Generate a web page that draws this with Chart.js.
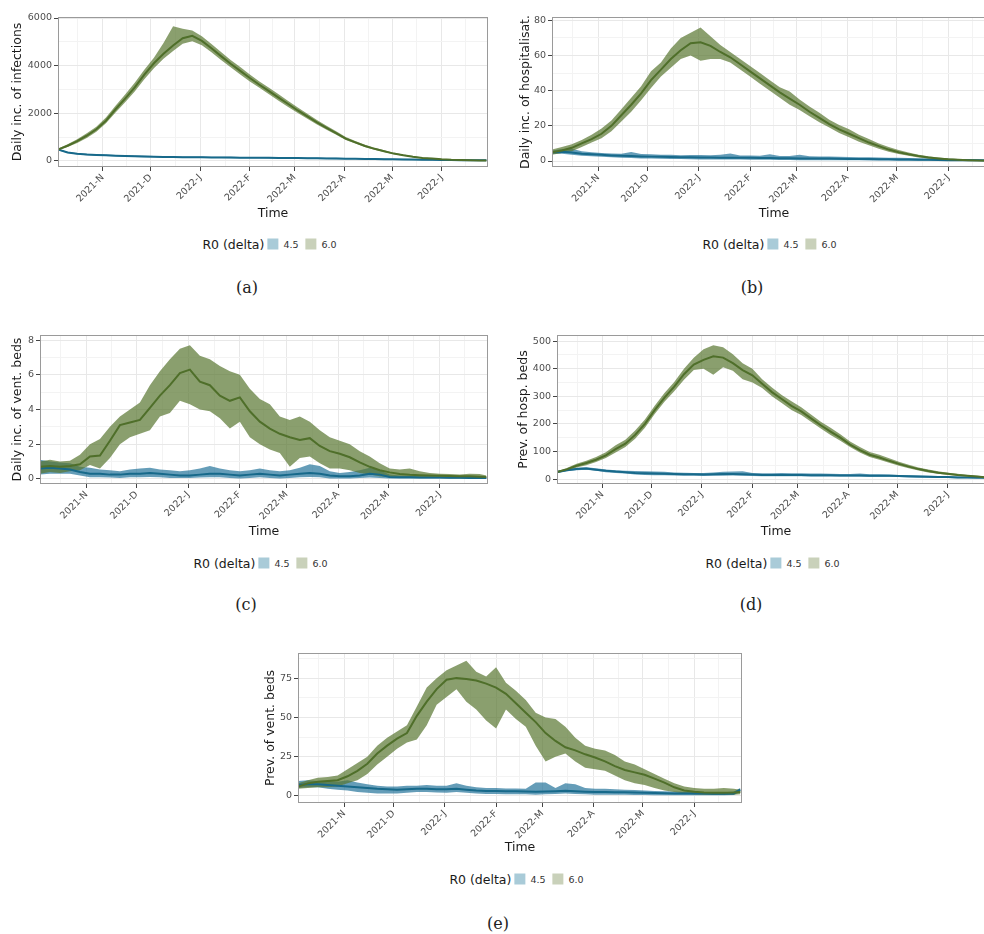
<!DOCTYPE html>
<html>
<head>
<meta charset="utf-8">
<title>Scenario projections by R0 (delta)</title>
<script src="https://cdn.jsdelivr.net/npm/chart.js@4.4.1/dist/chart.umd.min.js"></script>
<style>
    html, body { margin: 0; padding: 0; overflow: hidden; background: #fff; }
    body { position: relative; width: 984px; height: 934px; font-family: 'DejaVu Sans', sans-serif; }
    .panel { position: absolute; }
    .legend { position: absolute; display: flex; align-items: center; white-space: nowrap; transform: translate(-50%, -50%); color: #1a1a1a; }
    .legend .ttl { font-size: 12.5px; margin-right: 3px; }
    .legend .key { display: inline-block; width: 11px; height: 11px; margin-right: 5px; }
    .legend .lab { font-size: 9.5px; color: #333; margin-right: 7px; }
    .caption { position: absolute; transform: translate(-50%, -50%); font-family: 'DejaVu Serif', serif; font-size: 16px; color: #222; }
</style>
</head>
<body>
<script>
// Simulation day axis (day 0 = 1 Oct 2021)
const days = [3, 9, 15, 21, 27, 33, 39, 45, 51, 57, 63, 69, 75, 81, 87, 93, 99, 105, 111, 117,
    123, 129, 135, 141, 147, 153, 159, 165, 171, 177, 183, 189, 195, 201, 207, 213, 219, 225, 231, 237,
    243, 249, 255, 261, 267, 271];
const xTickDays = [31, 61, 92, 123, 151, 182, 212, 243];
const xTickLabels = ['2021-N', '2021-D', '2022-J', '2022-F', '2022-M', '2022-A', '2022-M', '2022-J'];
const xMinorDays = [15.5, 46, 76.5, 107.5, 137, 166.5, 197, 227.5, 258];

const legendTitle = 'R0 (delta)';
const legendLabels = ['4.5', '6.0'];

// (a) daily incidence of infections
const infTicks = [0, 2000, 4000, 6000];
const infMinor = [1000, 3000, 5000];
const inf45Mean = [480, 360, 300, 270, 250, 236, 222, 208, 196, 186, 178, 171, 165, 160, 156, 153, 150, 147, 144, 141,
    138, 135, 132, 129, 126, 122, 118, 113, 108, 103, 98, 93, 87, 81, 76, 70, 65, 60, 55, 50, 45, 40, 36, 33, 30, 28];
const inf45Lo = [455, 335, 275, 245, 225, 211, 197, 183, 171, 161, 153, 146, 140, 135, 131, 128, 125, 122, 119, 116,
    113, 110, 107, 104, 101, 97, 93, 88, 83, 78, 73, 68, 62, 56, 51, 45, 40, 35, 30, 25, 20, 16, 13, 11, 9, 8];
const inf45Hi = [505, 390, 330, 300, 282, 268, 255, 240, 228, 218, 210, 203, 196, 190, 186, 184, 180, 176, 173, 170,
    167, 164, 161, 158, 155, 151, 147, 142, 137, 132, 127, 122, 116, 110, 105, 99, 94, 88, 83, 78, 72, 66, 61, 57, 53, 50];
const inf60Mean = [480, 640, 830, 1060, 1330, 1690, 2170, 2620, 3090, 3620, 4100, 4500, 4850, 5150, 5250, 5040, 4730, 4400, 4080, 3780,
    3480, 3200, 2930, 2660, 2390, 2120, 1870, 1620, 1390, 1170, 940, 780, 630, 510, 410, 310, 240, 180, 130, 100, 70, 50, 40, 30, 25, 20];
const inf60Lo = [450, 590, 760, 970, 1230, 1580, 2030, 2470, 2920, 3430, 3890, 4290, 4620, 4920, 5020, 4860, 4560, 4240, 3930, 3630,
    3340, 3070, 2800, 2530, 2270, 2010, 1770, 1530, 1310, 1100, 880, 730, 590, 470, 375, 280, 215, 160, 112, 84, 56, 38, 28, 20, 16, 12];
const inf60Hi = [510, 700, 910, 1160, 1440, 1820, 2320, 2790, 3280, 3830, 4330, 4950, 5650, 5550, 5480, 5230, 4910, 4570, 4240, 3940,
    3630, 3340, 3070, 2800, 2520, 2240, 1980, 1720, 1480, 1250, 1010, 840, 680, 555, 450, 345, 270, 205, 150, 118, 86, 64, 52, 40, 34, 28];

// (b) daily incidence of hospitalisations
const hospTicks = [0, 20, 40, 60, 80];
const hospMinor = [10, 30, 50, 70];
const hosp45Mean = [5, 5.3, 4.8, 4.2, 3.8, 3.5, 3.2, 3, 2.8, 2.6, 2.5, 2.4, 2.3, 2.2, 2.1, 2, 2, 1.9, 1.9, 1.8,
    1.8, 1.7, 1.7, 1.6, 1.6, 1.5, 1.5, 1.4, 1.4, 1.3, 1.2, 1.2, 1.1, 1, 1, 0.9, 0.8, 0.7, 0.7, 0.6, 0.5, 0.5, 0.4, 0.4, 0.3, 0.3];
const hosp45Lo = [4, 4.2, 3.6, 3, 2.7, 2.4, 2.1, 1.9, 1.7, 1.5, 1.4, 1.3, 1.2, 1.1, 1, 0.9, 0.9, 0.8, 0.8, 0.8,
    0.7, 0.7, 0.7, 0.6, 0.6, 0.5, 0.5, 0.5, 0.5, 0.4, 0.4, 0.4, 0.3, 0.3, 0.3, 0.2, 0.2, 0.2, 0.2, 0.1, 0.1, 0.1, 0.1, 0.1, 0.05, 0.05];
const hosp45Hi = [6, 6.8, 7, 5.5, 5, 4.6, 4.3, 4.2, 5.2, 4, 3.8, 3.6, 3.5, 3.3, 3.4, 3.4, 3.3, 3.6, 4.3, 3.2,
    3.1, 3, 3.8, 2.9, 2.8, 3.6, 2.7, 2.6, 2.5, 2.4, 2.3, 2.2, 2.1, 2, 1.9, 1.8, 1.7, 1.6, 1.5, 1.4, 1.3, 1.2, 1.1, 1, 0.9, 0.8];
const hosp60Mean = [5, 6, 7.5, 10, 12.5, 15.5, 20, 26, 32, 38.5, 46, 52, 58, 63, 67, 67.5, 65.5, 62, 59, 55,
    51, 47, 43, 39, 35.5, 32, 28, 24.5, 21, 18, 15.5, 13, 10.5, 8.5, 6.5, 5, 3.8, 2.8, 2, 1.5, 1, 0.7, 0.5, 0.3, 0.2, 0.2];
const hosp60Lo = [3.5, 4.5, 5.5, 8, 10.5, 13, 17, 22.5, 28, 34.5, 41.5, 48, 53, 58, 60, 57, 58, 58, 56, 52,
    48, 44, 40, 36, 32, 29, 25.5, 22, 19, 16, 13.5, 11, 9, 7, 5.3, 4, 3, 2, 1.4, 1, 0.6, 0.4, 0.2, 0.1, 0.05, 0.05];
const hosp60Hi = [6.5, 8, 9.5, 12, 15, 18.5, 23, 29.5, 36, 42.5, 51, 56, 64, 70, 73, 76, 71, 66, 62, 58,
    54, 50, 46, 42, 39.5, 35, 31, 27.5, 23.5, 20.5, 18, 15, 12.5, 10, 8, 6.2, 4.8, 3.6, 2.7, 2, 1.5, 1.1, 0.8, 0.6, 0.4, 0.4];

// (c) daily incidence of ventilated beds
const ventTicks = [0, 2, 4, 6, 8];
const ventMinor = [1, 3, 5, 7];
const vent45Mean = [0.6, 0.65, 0.6, 0.55, 0.4, 0.3, 0.3, 0.25, 0.25, 0.3, 0.3, 0.35, 0.3, 0.25, 0.2, 0.2, 0.25, 0.3, 0.3, 0.25,
    0.2, 0.25, 0.3, 0.25, 0.2, 0.25, 0.3, 0.35, 0.3, 0.2, 0.15, 0.15, 0.2, 0.3, 0.25, 0.12, 0.1, 0.1, 0.09, 0.08, 0.08, 0.07, 0.07, 0.06, 0.06, 0.06];
const vent45Lo = [0.25, 0.3, 0.3, 0.3, 0.2, 0.1, 0.1, 0.08, 0.05, 0.1, 0.1, 0.12, 0.1, 0.05, 0.05, 0.05, 0.08, 0.1, 0.1, 0.05,
    0.02, 0.05, 0.1, 0.05, 0.02, 0.05, 0.1, 0.12, 0.1, 0.02, 0.02, 0.02, 0.05, 0.08, 0.05, 0.02, 0.02, 0.02, 0.02, 0.02, 0.02, 0.02, 0.02, 0.02, 0.02, 0.02];
const vent45Hi = [1.1, 1, 0.95, 0.9, 0.7, 0.65, 0.55, 0.5, 0.45, 0.55, 0.6, 0.65, 0.55, 0.5, 0.45, 0.5, 0.6, 0.75, 0.6, 0.5,
    0.45, 0.5, 0.6, 0.5, 0.45, 0.5, 0.65, 0.85, 0.75, 0.45, 0.35, 0.4, 0.5, 0.65, 0.5, 0.25, 0.2, 0.18, 0.16, 0.15, 0.14, 0.13, 0.12, 0.12, 0.12, 0.1];
const vent60Mean = [0.7, 0.75, 0.7, 0.75, 0.85, 1.3, 1.35, 2.2, 3.1, 3.25, 3.4, 4.1, 4.8, 5.4, 6.1, 6.3, 5.6, 5.4, 4.8, 4.5,
    4.7, 3.9, 3.3, 2.9, 2.6, 2.4, 2.25, 2.35, 1.9, 1.6, 1.45, 1.25, 0.95, 0.7, 0.5, 0.38, 0.28, 0.24, 0.22, 0.2, 0.19, 0.17, 0.16, 0.15, 0.13, 0.12];
const vent60Lo = [0.3, 0.4, 0.35, 0.45, 0.5, 0.8, 0.6, 1.2, 2, 2.4, 2.6, 2.8, 3.6, 3.8, 4.5, 4.3, 4, 3.9, 3.5, 2.9,
    3.3, 2.4, 2, 1.7, 1.5, 0.7, 1.2, 1.3, 0.9, 0.6, 0.6, 0.5, 0.35, 0.25, 0.15, 0.1, 0.08, 0.05, 0.05, 0.05, 0.05, 0.04, 0.04, 0.03, 0.03, 0.03];
const vent60Hi = [1, 1.1, 1, 1.05, 1.4, 2, 2.3, 3, 3.6, 4, 4.4, 5.4, 6.2, 6.9, 7.5, 7.7, 7.1, 6.9, 6.5, 6.2,
    6, 5.2, 4.6, 4.3, 3.6, 3.4, 3.6, 3.3, 2.8, 2.4, 2.2, 2, 1.6, 1.3, 0.9, 0.6, 0.55, 0.6, 0.45, 0.35, 0.3, 0.28, 0.25, 0.3, 0.28, 0.2];

// (d) prevalence of hospital beds
const hbedTicks = [0, 100, 200, 300, 400, 500];
const hbedMinor = [50, 150, 250, 350, 450];
const hbed45Mean = [25, 32, 36, 38, 34, 30, 27, 25, 22, 21, 20, 19, 18, 17, 17, 16, 17, 18, 18, 17,
    16, 15, 15, 15, 15, 15, 14, 14, 14, 13, 13, 13, 12, 12, 12, 11, 10, 9, 8, 7, 7, 6, 6, 5, 5, 4];
const hbed45Lo = [21, 28, 32, 34, 30, 25, 22, 20, 16, 15, 14, 14, 13, 12, 12, 11, 12, 12, 13, 12,
    11, 10, 10, 10, 10, 10, 9, 9, 9, 9, 9, 9, 8, 8, 8, 7, 6, 5, 5, 4, 4, 3, 3, 3, 2, 2];
const hbed45Hi = [29, 36, 41, 43, 39, 35, 32, 30, 29, 28, 27, 26, 24, 23, 22, 22, 24, 26, 27, 28,
    22, 21, 21, 22, 21, 21, 20, 20, 19, 18, 18, 20, 17, 17, 16, 15, 14, 13, 12, 11, 10, 9, 8, 8, 7, 6];
const hbed60Mean = [25, 35, 48, 58, 70, 86, 108, 128, 160, 200, 250, 295, 335, 380, 415, 432, 445, 440, 420, 395,
    376, 345, 315, 290, 265, 245, 220, 195, 172, 150, 125, 105, 88, 78, 66, 55, 45, 36, 29, 23, 19, 15, 12, 9, 6, 5];
const hbed60Lo = [22, 30, 42, 50, 62, 76, 96, 116, 146, 186, 236, 280, 318, 360, 395, 400, 378, 405, 392, 362,
    350, 330, 300, 276, 250, 232, 208, 183, 160, 139, 116, 96, 80, 70, 59, 48, 39, 31, 24, 19, 15, 12, 9, 6, 4, 3];
const hbed60Hi = [28, 40, 55, 66, 80, 97, 122, 142, 176, 216, 266, 312, 352, 400, 440, 470, 485, 478, 452, 420,
    400, 362, 332, 305, 282, 260, 234, 208, 186, 162, 136, 116, 98, 88, 75, 63, 52, 42, 35, 28, 23, 19, 15, 12, 9, 7];

// (e) prevalence of ventilated beds
const vbedTicks = [0, 25, 50, 75];
const vbedMinor = [12.5, 37.5, 62.5, 87.5];
const vbed45Mean = [7, 7.5, 7.5, 7, 6.5, 6, 5.5, 5, 4.5, 4.2, 4, 4.2, 4.5, 4.5, 4.3, 4.2, 4.5, 4, 3.5, 3.2,
    3.2, 3, 3, 2.8, 2.6, 2.8, 3, 3.3, 3, 2.7, 2.5, 2.5, 2.4, 2.3, 2.2, 2, 1.8, 1.7, 1.6, 1.5, 1.5, 1.5, 1.4, 1.4, 1.6, 4];
const vbed45Lo = [5, 5.5, 5.5, 4.5, 4, 3.5, 2.5, 2, 1.5, 1.5, 1.5, 2, 2.5, 2.5, 2.2, 2, 2.5, 2, 1.5, 1.2,
    1.2, 1, 1, 1, 0.8, 1, 1.2, 1.5, 1.2, 1, 0.8, 0.8, 0.8, 0.7, 0.6, 0.6, 0.5, 0.5, 0.5, 0.5, 0.5, 0.5, 0.5, 0.5, 0.6, 2.5];
const vbed45Hi = [9.5, 10, 9.5, 9.5, 9, 10, 8.5, 7.5, 6.5, 6, 6, 6.5, 6.5, 7, 6.5, 6.5, 8, 6.5, 5.5, 5,
    5, 4.8, 4.8, 4.5, 8.5, 8.5, 5, 8, 7.5, 5, 4.5, 4.5, 4.2, 4, 3.8, 3.5, 3.2, 3, 2.8, 2.6, 2.5, 2.5, 2.4, 2.4, 2.8, 5];
const vbed60Mean = [6, 8, 9, 9.5, 10, 12.5, 16, 20.5, 27, 32, 36.5, 40, 51, 60, 68, 74, 75, 74.5, 73.5, 71.5,
    69, 65, 59, 53, 47, 40, 35, 31, 29, 26.5, 24.5, 22, 19, 16.5, 15, 13.5, 11, 8.5, 5.5, 3.5, 2.6, 2.2, 2, 2, 2.2, 2.5];
const vbed60Lo = [4.5, 5, 5.5, 5.5, 6, 8, 10, 14, 20, 25, 30, 34, 36, 45, 58, 63, 68, 60, 55, 48,
    43, 55, 49, 44, 32, 22, 25, 27, 22, 18, 17, 16, 13, 10, 8, 7, 5, 3.5, 2.5, 1.5, 1, 0.8, 0.6, 0.6, 0.8, 1];
const vbed60Hi = [8, 10, 11.5, 12, 13, 17, 21, 25, 32, 37, 41, 45, 57, 69, 75, 80, 83, 86, 79, 76,
    82, 72, 67, 61, 53, 50, 49, 44, 37, 32, 30, 29, 26, 22, 20, 17, 14, 11, 8, 6, 5, 4.5, 4.5, 5, 4.5, 4];

// colours
const blueLine = '#17698a';
const blueBand = 'rgba(28, 110, 150, 0.68)';
const greenLine = '#4f6f2a';
const greenBand = 'rgba(88, 118, 48, 0.7)';
const blueKey = '#a9cbd8';
const greenKey = '#c9d1ba';

const panels = [
    { key: 'a', left: 0, top: 8, width: 496, height: 217, yWidth: 58, xHeight: 58,
      yTitle: 'Daily inc. of infections', yMin: -252, yMax: 6042, yMajor: infTicks, yMinor: infMinor,
      s45: [inf45Lo, inf45Mean, inf45Hi], s60: [inf60Lo, inf60Mean, inf60Hi],
      legendX: 273, legendY: 244, captionX: 247, captionY: 287 },
    { key: 'b', left: 508, top: 8, width: 496, height: 217, yWidth: 44, xHeight: 58,
      yTitle: 'Daily inc. of hospitalisat.', yMin: -3.4, yMax: 81.9, yMajor: hospTicks, yMinor: hospMinor,
      s45: [hosp45Lo, hosp45Mean, hosp45Hi], s60: [hosp60Lo, hosp60Mean, hosp60Hi],
      legendX: 773, legendY: 244, captionX: 752, captionY: 287 },
    { key: 'c', left: 0, top: 326, width: 496, height: 217, yWidth: 40, xHeight: 59,
      yTitle: 'Daily inc. of vent. beds', yMin: -0.29, yMax: 8.29, yMajor: ventTicks, yMinor: ventMinor,
      s45: [vent45Lo, vent45Mean, vent45Hi], s60: [vent60Lo, vent60Mean, vent60Hi],
      legendX: 264, legendY: 563, captionX: 246, captionY: 604 },
    { key: 'd', left: 506, top: 326, width: 497, height: 217, yWidth: 51, xHeight: 59,
      yTitle: 'Prev. of hosp. beds', yMin: -18, yMax: 522, yMajor: hbedTicks, yMinor: hbedMinor,
      s45: [hbed45Lo, hbed45Mean, hbed45Hi], s60: [hbed60Lo, hbed60Mean, hbed60Hi],
      legendX: 776, legendY: 563, captionX: 751, captionY: 604 },
    { key: 'e', left: 253, top: 644, width: 497, height: 215, yWidth: 45, xHeight: 56,
      yTitle: 'Prev. of vent. beds', yMin: -4.5, yMax: 91, yMajor: vbedTicks, yMinor: vbedMinor,
      s45: [vbed45Lo, vbed45Mean, vbed45Hi], s60: [vbed60Lo, vbed60Mean, vbed60Hi],
      legendX: 520, legendY: 879, captionX: 498, captionY: 923 }
];

Chart.defaults.font.family = "'DejaVu Sans', sans-serif";
Chart.defaults.color = '#4d4d4d';

// ggplot-like panel border drawn over everything
const panelBorder = {
    id: 'panelBorder',
    afterDraw(chart) {
        const a = chart.chartArea;
        const ctx = chart.ctx;
        ctx.save();
        ctx.strokeStyle = '#9a9a9a';
        ctx.lineWidth = 1;
        ctx.strokeRect(Math.round(a.left) + 0.5, Math.round(a.top) + 0.5,
            Math.round(a.width) - 1, Math.round(a.height) - 1);
        ctx.restore();
    }
};

function toPoints(ys) {
    return days.map((d, i) => ({ x: d, y: ys[i] }));
}

// major + minor breaks, labels only on the major ones
function pickTicks(major, minor) {
    return function(scale) {
        scale.ticks = major.map(v => ({ value: v, isMajor: true }))
            .concat(minor.map(v => ({ value: v, isMajor: false })))
            .filter(t => t.value >= scale.min && t.value <= scale.max)
            .sort((p, q) => p.value - q.value);
    };
}

const gridOpts = {
    color: ctx => (ctx.tick && ctx.tick.isMajor) ? '#e8e8e8' : '#f3f3f3',
    lineWidth: 1,
    tickColor: ctx => (ctx.tick && ctx.tick.isMajor) ? '#444' : 'rgba(0,0,0,0)',
    tickLength: 4,
    tickWidth: 1,
    drawTicks: true
};

function bandSets(lo, hi, color, order) {
    return [
        { data: toPoints(lo), borderWidth: 0, pointRadius: 0, fill: false, order: order },
        { data: toPoints(hi), borderWidth: 0, pointRadius: 0, fill: '-1', backgroundColor: color, order: order }
    ];
}

function lineSet(mean, color, order) {
    return { data: toPoints(mean), borderColor: color, borderWidth: 2, pointRadius: 0, fill: false, order: order };
}

panels.forEach(p => {
    const box = document.createElement('div');
    box.className = 'panel';
    box.style.left = p.left + 'px';
    box.style.top = p.top + 'px';
    const canvas = document.createElement('canvas');
    canvas.width = p.width;
    canvas.height = p.height;
    canvas.style.width = p.width + 'px';
    canvas.style.height = p.height + 'px';
    box.appendChild(canvas);
    document.body.appendChild(box);

    const datasets = []
        .concat(bandSets(p.s45[0], p.s45[2], blueBand, 6))
        .concat(bandSets(p.s60[0], p.s60[2], greenBand, 5))
        .concat([lineSet(p.s45[1], blueLine, 2), lineSet(p.s60[1], greenLine, 1)]);

    new Chart(canvas.getContext('2d'), {
        type: 'line',
        data: { datasets: datasets },
        options: {
            responsive: false,
            animation: false,
            devicePixelRatio: 1,
            events: [],
            layout: { padding: { top: 9, right: 8, left: 0, bottom: 0 } },
            plugins: {
                legend: { display: false },
                tooltip: { enabled: false }
            },
            scales: {
                x: {
                    type: 'linear',
                    min: 3,
                    max: 272,
                    afterBuildTicks: pickTicks(xTickDays, xMinorDays),
                    afterFit: s => { s.height = p.xHeight; },
                    ticks: {
                        autoSkip: false,
                        minRotation: 45,
                        maxRotation: 45,
                        padding: 1,
                        color: '#4d4d4d',
                        font: { size: 9.5 },
                        callback: (v, i, ticks) => ticks[i].isMajor ? xTickLabels[xTickDays.indexOf(v)] : ''
                    },
                    grid: gridOpts,
                    border: { display: false },
                    title: { display: true, text: 'Time', color: '#1a1a1a', font: { size: 12.5 }, padding: { top: 4, bottom: 4 } }
                },
                y: {
                    type: 'linear',
                    min: p.yMin,
                    max: p.yMax,
                    afterBuildTicks: pickTicks(p.yMajor, p.yMinor),
                    afterFit: s => { s.width = p.yWidth; },
                    ticks: {
                        autoSkip: false,
                        padding: 2,
                        color: '#4d4d4d',
                        font: { size: 9.5 },
                        callback: (v, i, ticks) => ticks[i].isMajor ? String(v) : ''
                    },
                    grid: gridOpts,
                    border: { display: false },
                    title: { display: true, text: p.yTitle, color: '#1a1a1a', font: { size: 12.5 }, padding: { top: 10, bottom: 0 } }
                }
            }
        },
        plugins: [panelBorder]
    });

    const legend = document.createElement('div');
    legend.className = 'legend';
    legend.style.left = p.legendX + 'px';
    legend.style.top = p.legendY + 'px';
    legend.innerHTML =
        '<span class="ttl">' + legendTitle + '</span>' +
        '<span class="key" style="background:' + blueKey + '"></span><span class="lab">' + legendLabels[0] + '</span>' +
        '<span class="key" style="background:' + greenKey + '"></span><span class="lab">' + legendLabels[1] + '</span>';
    document.body.appendChild(legend);

    const caption = document.createElement('div');
    caption.className = 'caption';
    caption.style.left = p.captionX + 'px';
    caption.style.top = p.captionY + 'px';
    caption.textContent = '(' + p.key + ')';
    document.body.appendChild(caption);
});
</script>
</body>
</html>
